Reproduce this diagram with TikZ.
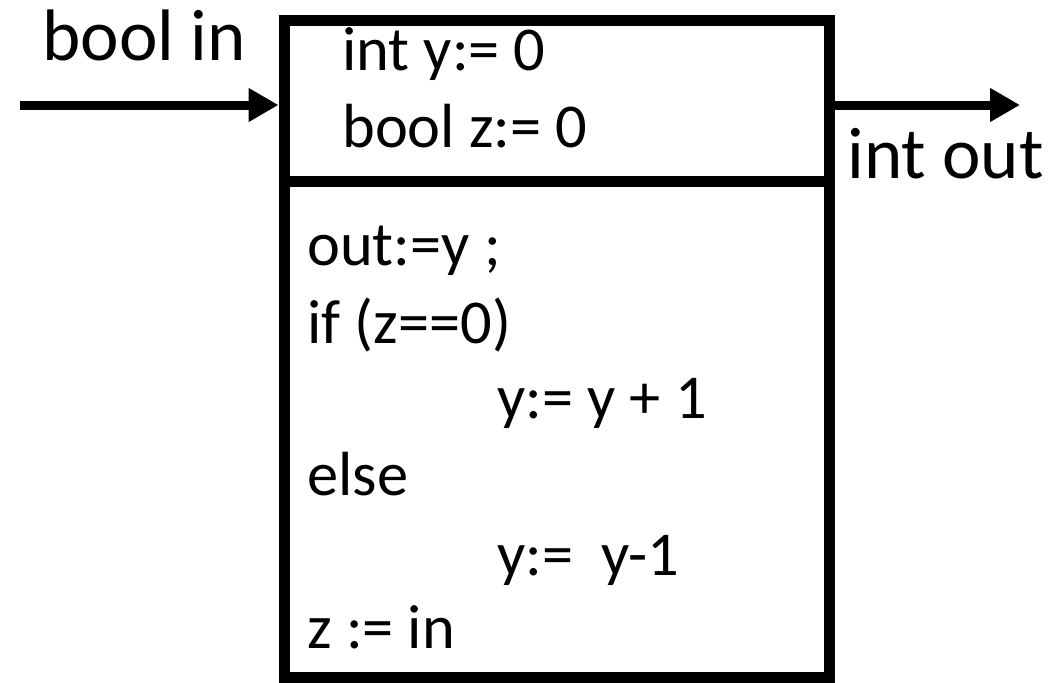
\documentclass[tikz,border=0pt]{standalone}
\usepackage{fontspec}
\setmainfont{Carlito}
\usetikzlibrary{arrows.meta, positioning}

\begin{document}
\begin{tikzpicture}[
        block/.style={
            rectangle,
            draw=black,
            line width=0.22cm,
            minimum width=10.9cm,
            minimum height=13.12cm
        },
        label/.style={
            anchor=base west,
            inner sep=0pt,
            font=\fontsize{41.5}{48}\selectfont
        },
        code/.style={
            anchor=base west,
            inner sep=0pt,
            font=\fontsize{35.5}{42}\selectfont
        },
        arrow/.style={-{Triangle[length=0.6cm, width=0.64cm]}, line width=0.18cm}
    ]

    \useasboundingbox (0,0) rectangle (21.22,13.64);

    % the block and its two parts
    \node (block) [block] at (11.13,6.66) {};
    \draw [line width=0.22cm] ([yshift=-3.31cm]block.north west) -- ([yshift=-3.31cm]block.north east);

    % ports
    \coordinate (src) at (0.4,11.54);
    \coordinate (dst) at (20.4,11.54);
    \draw [arrow] (src) -- (src -| block.west);
    \draw [arrow] (dst -| block.east) -- (dst);

    \node (inlabel) [label] at (0.84,12.44) {bool in};
    \node (outlabel) [label] at (16.94,10.08) {int out};

    % state
    \node (yinit) [code] at (6.84,12.24) {int y:= 0};
    \node (zinit) [code] at (6.84,10.70) {bool z:= 0};

    % step
    \node (out) [code] at (6.14,8.34) {out:=y ;};
    \node (if) [code] at (6.14,6.78) {if (z==0)};
    \node (inc) [code] at (9.94,5.28) {y:= y + 1};
    \node (else) [code] at (6.14,3.74) {else};
    \node (dec) [code] at (9.94,2.14) {y:=\ \ y-1};
    \node (zin) [code] at (6.14,0.68) {z := in};

\end{tikzpicture}
\end{document}
